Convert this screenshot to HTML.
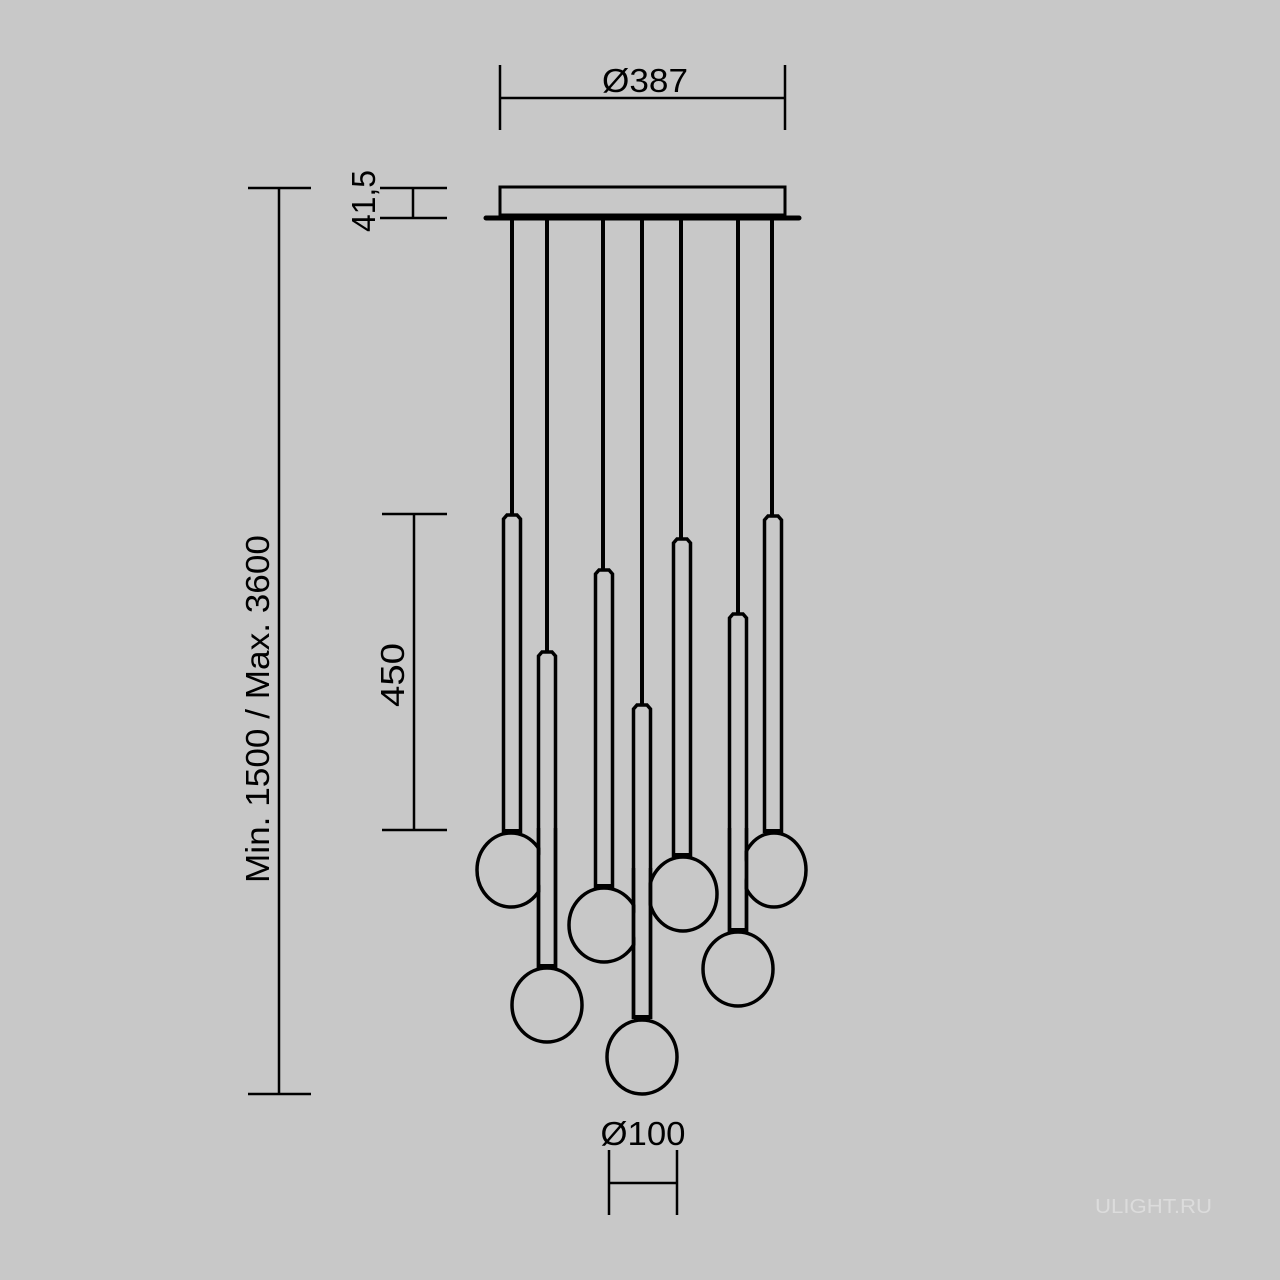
<!DOCTYPE html>
<html><head><meta charset="utf-8"><style>html,body{margin:0;padding:0;background:#c8c8c8}svg{display:block}</style></head>
<body>
<svg width="1280" height="1280" viewBox="0 0 1280 1280" xmlns="http://www.w3.org/2000/svg">
<rect width="1280" height="1280" fill="#c8c8c8"/>
<g fill="none" stroke="#000" stroke-width="2.5">
<line x1="500" y1="65" x2="500" y2="130"/><line x1="785" y1="65" x2="785" y2="130"/><line x1="500" y1="98" x2="785" y2="98"/>
<line x1="248" y1="188" x2="311" y2="188"/><line x1="248" y1="1094" x2="311" y2="1094"/><line x1="279" y1="188" x2="279" y2="1094"/>
<line x1="380" y1="188" x2="447" y2="188"/><line x1="380" y1="218" x2="447" y2="218"/><line x1="413" y1="188" x2="413" y2="218"/>
<line x1="382" y1="514" x2="447" y2="514"/><line x1="382" y1="830" x2="447" y2="830"/><line x1="414" y1="514" x2="414" y2="830"/>
<line x1="609" y1="1150" x2="609" y2="1215"/><line x1="677" y1="1150" x2="677" y2="1215"/><line x1="609" y1="1183" x2="677" y2="1183"/>
</g>
<g stroke="#000" fill="none">
<rect x="500" y="187" width="285" height="28" stroke-width="3"/>
<line x1="486" y1="218" x2="799" y2="218" stroke-width="5" stroke-linecap="round"/>
</g>
<g stroke="#000" stroke-width="4" fill="none">
<line x1="512" y1="218" x2="512" y2="514"/>
<line x1="547" y1="218" x2="547" y2="651"/>
<line x1="603" y1="218" x2="603" y2="569"/>
<line x1="642" y1="218" x2="642" y2="704"/>
<line x1="681" y1="218" x2="681" y2="538"/>
<line x1="738" y1="218" x2="738" y2="613"/>
<line x1="772" y1="218" x2="772" y2="515"/>
</g>
<g stroke="#000" stroke-width="3.5" fill="#c8c8c8">
<path d="M503.5 833 V519 L507 515 H517 L520.5 519 V833"/>
<path d="M538.5 968 V656 L542 652 H552 L555.5 656 V968"/>
<path d="M595.5 888 V574 L599 570 H609 L612.5 574 V888"/>
<path d="M633.5 1019 V709 L637 705 H647 L650.5 709 V1019"/>
<path d="M673.5 857 V543 L677 539 H687 L690.5 543 V857"/>
<path d="M729.5 932 V618 L733 614 H743 L746.5 618 V932"/>
<path d="M764.5 833 V520 L768 516 H778 L781.5 520 V833"/>
</g>
<g stroke="#000" stroke-width="3.5" fill="none">
<ellipse cx="511" cy="870" rx="34" ry="37"/>
<ellipse cx="547" cy="1005" rx="35" ry="37"/>
<ellipse cx="604" cy="925" rx="35" ry="37"/>
<ellipse cx="642" cy="1057" rx="35" ry="37"/>
<ellipse cx="683" cy="894" rx="34" ry="37"/>
<ellipse cx="738" cy="969" rx="35" ry="37"/>
<ellipse cx="774" cy="870" rx="32" ry="37"/>
</g>
<g fill="#c8c8c8">
<rect x="540.5" y="830" width="13" height="138"/>
<rect x="635.5" y="870" width="13" height="149"/>
<rect x="731.5" y="830" width="13" height="102"/>
</g>
<g stroke="#000" stroke-width="3.5">
<line x1="538.5" y1="828" x2="538.5" y2="968"/><line x1="555.5" y1="828" x2="555.5" y2="968"/>
<line x1="633.5" y1="868" x2="633.5" y2="1019"/><line x1="650.5" y1="868" x2="650.5" y2="1019"/>
<line x1="729.5" y1="828" x2="729.5" y2="932"/><line x1="746.5" y1="828" x2="746.5" y2="932"/>
</g>
<g fill="#000">
<rect x="504" y="829" width="16" height="5"/><rect x="539" y="964" width="16" height="5"/><rect x="596" y="884" width="16" height="5"/>
<rect x="634" y="1015" width="16" height="5"/><rect x="674" y="853" width="16" height="5"/><rect x="730" y="928" width="16" height="5"/><rect x="765" y="829" width="16" height="5"/>
</g>
<g font-family="Liberation Sans, sans-serif" fill="#000">
<text x="645" y="92" font-size="33" text-anchor="middle" textLength="86" lengthAdjust="spacingAndGlyphs">Ø387</text>
<text x="643" y="1145" font-size="33" text-anchor="middle" textLength="85" lengthAdjust="spacingAndGlyphs">Ø100</text>
<text transform="translate(269,883) rotate(-90)" font-size="33" textLength="348" lengthAdjust="spacingAndGlyphs">Min. 1500 / Max. 3600</text>
<text transform="translate(404,707) rotate(-90)" font-size="33" textLength="64" lengthAdjust="spacingAndGlyphs">450</text>
<text transform="translate(375,232) rotate(-90)" font-size="33" textLength="62" lengthAdjust="spacingAndGlyphs">41,5</text>
<text x="1095" y="1213" font-size="20" fill="#dcdcdc" textLength="117" lengthAdjust="spacingAndGlyphs">ULIGHT.RU</text>
</g>
</svg>
</body></html>
